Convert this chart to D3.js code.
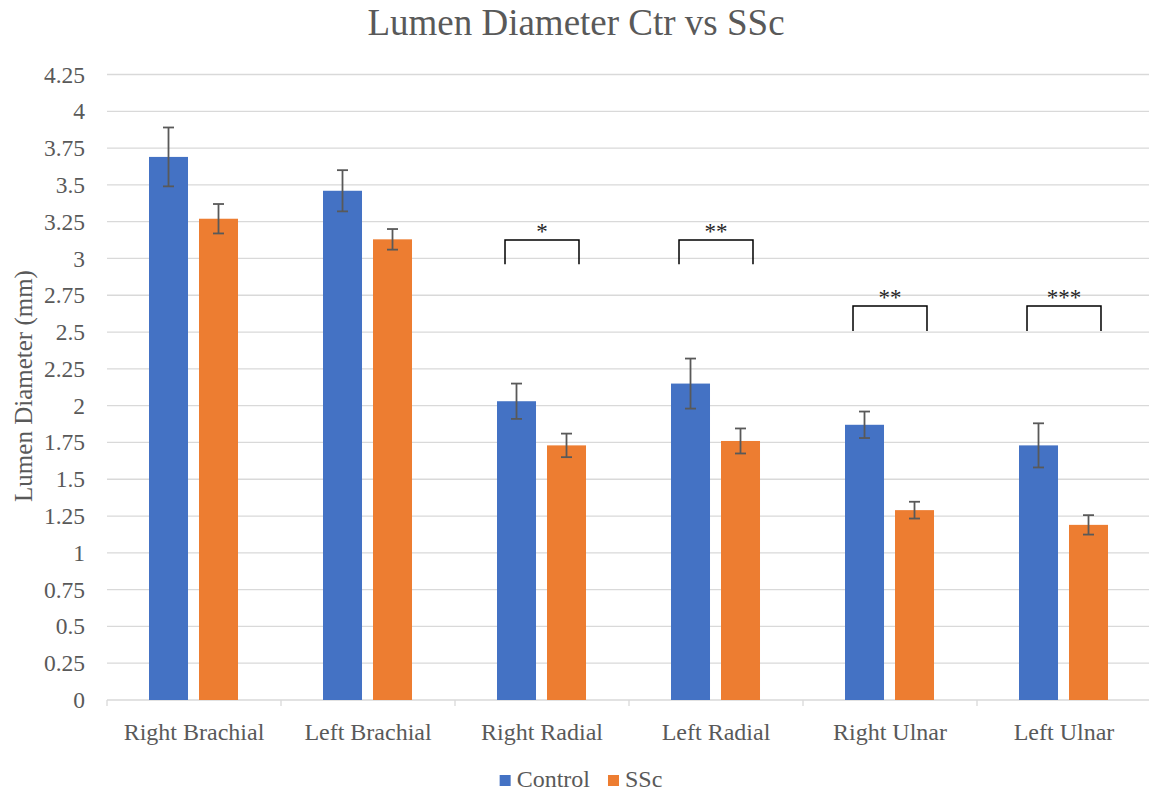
<!DOCTYPE html>
<html>
<head>
  <meta charset="utf-8">
  <title>Lumen Diameter Ctr vs SSc</title>
  <script src="https://cdn.jsdelivr.net/npm/d3@7"></script>
  <style>
    body { margin: 0; background: #fff; }
    text { font-family: "Liberation Serif", "Times New Roman", serif; fill: #595959; }
  </style>
</head>
<body>
  <script>
    // Data
    const categories = ["Right Brachial", "Left Brachial", "Right Radial", "Left Radial", "Right Ulnar", "Left Ulnar"];
    const seriesNames = ["Control", "SSc"];
    const controlValues = [3.69, 3.46, 2.03, 2.15, 1.87, 1.73];
    const controlErrors = [0.20, 0.14, 0.12, 0.17, 0.09, 0.15];
    const sscValues = [3.27, 3.13, 1.73, 1.76, 1.29, 1.19];
    const sscErrors = [0.10, 0.07, 0.08, 0.085, 0.057, 0.066];
    const yTicks = [0, 0.25, 0.5, 0.75, 1, 1.25, 1.5, 1.75, 2, 2.25, 2.5, 2.75, 3, 3.25, 3.5, 3.75, 4, 4.25];

    // Significance brackets (category index, label, top, bottom in mm)
    const sigCategories = [2, 3, 4, 5];
    const sigLabels = ["*", "**", "**", "***"];
    const sigTop = [3.125, 3.125, 2.677, 2.677];
    const sigBottom = [2.96, 2.96, 2.507, 2.507];

    const w = 1149;
    const h = 794;
    const mLeft = 107, mRight = 1151, mTop = 74.5, mBottom = 700;
    const colors = ["#4472C4", "#ED7D31"];

    const svg = d3.select("body").append("svg")
      .attr("width", w)
      .attr("height", h);

    const x = d3.scaleBand().domain(categories).range([mLeft, mRight]);
    // bar pair inside each band
    const bw = x.bandwidth();
    const x1 = d3.scaleBand().domain(seriesNames)
      .range([bw * 0.2414, bw * 0.7529])
      .paddingInner(0.22);
    const y = d3.scaleLinear().domain([0, 4.25]).range([mBottom, mTop]);

    // Gridlines
    svg.append("g")
      .selectAll("line")
      .data(yTicks.filter(d => d > 0))
      .enter().append("line")
      .attr("x1", mLeft).attr("x2", mRight)
      .attr("y1", d => y(d)).attr("y2", d => y(d))
      .attr("stroke", "#d9d9d9").attr("stroke-width", 1.3);

    // Y axis labels
    const yAxis = d3.axisLeft(y).tickValues(yTicks).tickSize(0).tickPadding(22)
      .tickFormat(d => String(d));
    svg.append("g")
      .attr("transform", "translate(" + mLeft + ",0)")
      .call(yAxis)
      .call(g => g.select(".domain").remove())
      .call(g => g.selectAll("text")
        .attr("font-family", "Liberation Serif")
        .attr("font-size", 23.5)
        .attr("fill", "#595959"));

    // X axis
    const xAxis = d3.axisBottom(x).tickSize(0).tickPadding(23);
    svg.append("g")
      .attr("transform", "translate(0," + mBottom + ")")
      .call(xAxis)
      .call(g => g.select(".domain").remove())
      .call(g => g.selectAll("text")
        .attr("font-family", "Liberation Serif")
        .attr("font-size", 24)
        .attr("fill", "#595959"));
    svg.append("line")
      .attr("x1", mLeft).attr("x2", mRight)
      .attr("y1", mBottom).attr("y2", mBottom)
      .attr("stroke", "#d9d9d9").attr("stroke-width", 1.3);
    svg.append("g")
      .selectAll("line")
      .data(d3.range(categories.length + 1))
      .enter().append("line")
      .attr("x1", i => mLeft + i * x.step())
      .attr("x2", i => mLeft + i * x.step())
      .attr("y1", mBottom).attr("y2", mBottom + 6)
      .attr("stroke", "#d9d9d9").attr("stroke-width", 1.3);

    // Bars
    const rows = categories.map((c, i) => [
      { cat: c, s: seriesNames[0], v: controlValues[i], e: controlErrors[i], k: 0 },
      { cat: c, s: seriesNames[1], v: sscValues[i], e: sscErrors[i], k: 1 }
    ]).flat();

    svg.append("g")
      .selectAll("rect")
      .data(rows)
      .enter().append("rect")
      .attr("x", d => x(d.cat) + x1(d.s))
      .attr("y", d => y(d.v))
      .attr("width", x1.bandwidth())
      .attr("height", d => y(0) - y(d.v))
      .attr("fill", d => colors[d.k]);

    // Error bars
    const eb = svg.append("g")
      .attr("stroke", "#595959").attr("stroke-width", 1.8);
    rows.forEach(d => {
      const cx = x(d.cat) + x1(d.s) + x1.bandwidth() / 2;
      eb.append("line").attr("x1", cx).attr("x2", cx)
        .attr("y1", y(d.v + d.e)).attr("y2", y(d.v - d.e));
      eb.append("line").attr("x1", cx - 5.5).attr("x2", cx + 5.5)
        .attr("y1", y(d.v + d.e)).attr("y2", y(d.v + d.e));
      eb.append("line").attr("x1", cx - 5.5).attr("x2", cx + 5.5)
        .attr("y1", y(d.v - d.e)).attr("y2", y(d.v - d.e));
    });

    // Significance brackets
    sigCategories.forEach((ci, i) => {
      const cx = x(categories[ci]) + bw / 2;
      const half = bw * 0.2126;
      svg.append("path")
        .attr("d", "M" + (cx - half) + "," + y(sigBottom[i]) +
          "V" + y(sigTop[i]) + "H" + (cx + half) + "V" + y(sigBottom[i]))
        .attr("fill", "none")
        .attr("stroke", "#000").attr("stroke-width", 1.5);
      svg.append("text")
        .attr("x", cx)
        .attr("y", y(sigTop[i]) - 1)
        .attr("text-anchor", "middle")
        .attr("font-size", 23)
        .style("fill", "#262626")
        .text(sigLabels[i]);
    });

    // Title
    svg.append("text")
      .attr("x", 576)
      .attr("y", 35)
      .attr("text-anchor", "middle")
      .attr("font-size", 37)
      .text("Lumen Diameter Ctr vs SSc");

    // Y axis title
    svg.append("text")
      .attr("transform", "translate(32,386) rotate(-90)")
      .attr("text-anchor", "middle")
      .attr("font-size", 25)
      .text("Lumen Diameter (mm)");

    // Legend
    const legend = svg.append("g");
    let lx = 0;
    seriesNames.forEach((s, i) => {
      const g = legend.append("g").attr("transform", "translate(" + lx + ",0)");
      g.append("rect").attr("x", 0).attr("y", -12).attr("width", 11).attr("height", 11)
        .attr("fill", colors[i]);
      const t = g.append("text").attr("x", 17).attr("y", 0)
        .attr("font-size", 24).text(s);
      lx += 17 + t.node().getComputedTextLength() + 18;
    });
    const lw = lx - 18;
    legend.attr("transform", "translate(" + (581 - lw / 2) + ",787)");
  </script>
</body>
</html>
